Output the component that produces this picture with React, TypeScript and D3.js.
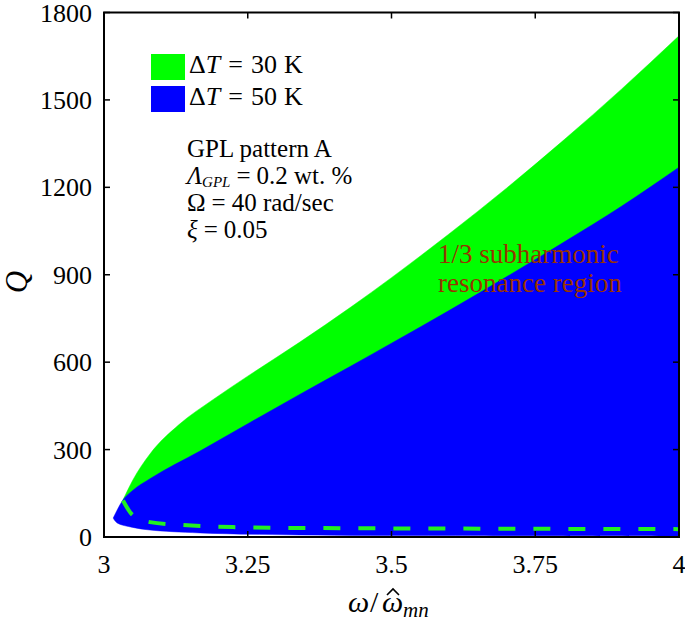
import * as d3 from "d3";

const W = 685;
const H = 623;

// ω / ω̂mn vs Q boundaries
const greenTopW = [3.033, 3.05, 3.08, 3.13, 3.19, 3.25, 3.34, 3.43, 3.5, 3.6, 3.7, 3.8, 3.9, 4.0];
const greenTopQ = [127, 195, 285, 385, 472, 552, 668, 790, 890, 1040, 1197, 1363, 1537, 1720];

const greenLowW = [3.033, 3.05, 3.08, 3.137, 3.224, 3.341, 3.6, 4.0];
const greenLowQ = [125, 75, 51, 41, 34, 31, 29, 27];

const blueTopW = [3.016, 3.033, 3.05, 3.08, 3.167, 3.254, 3.341, 3.428, 3.5, 3.6, 3.7, 3.8, 3.9, 4.0];
const blueTopQ = [65, 127, 160, 200, 295, 393, 490, 585, 665, 777, 893, 1012, 1135, 1269];

const blueLowW = [3.016, 3.023, 3.05, 3.08, 3.167, 3.341, 3.6, 4.0];
const blueLowQ = [65, 48, 33, 24, 14, 7, 5, 3];

const xTicks = [3, 3.25, 3.5, 3.75, 4];
const xTickLabels = ["3", "3.25", "3.5", "3.75", "4"];
const yTicks = [0, 300, 600, 900, 1200, 1500, 1800];

const legendLabels = ["30", "50"];
const legendColors = ["#00ff00", "#0000ff"];

const left = 104;
const right = 679;
const top = 12.5;
const bottom = 537;

const serif = '"Liberation Serif", "Times New Roman", Times, "DejaVu Serif", serif';

export default function App() {
  const x = d3.scaleLinear().domain([3, 4]).range([left, right]);
  const y = d3.scaleLinear().domain([0, 1800]).range([bottom, top]);

  const lineM = d3
    .line<[number, number]>()
    .x((d) => x(d[0]))
    .y((d) => y(d[1]))
    .curve(d3.curveMonotoneX);
  const lineC = d3
    .line<[number, number]>()
    .x((d) => x(d[0]))
    .y((d) => y(d[1]))
    .curve(d3.curveCatmullRom.alpha(0.5));

  const zip = (ws: number[], qs: number[]) =>
    ws.map((w, i) => [w, qs[i]] as [number, number]);

  const region = (tw: number[], tq: number[], lw: number[], lq: number[]) => {
    const up = lineM(zip(tw, tq)) ?? "";
    const low = lineC(zip(lw, lq).reverse()) ?? "";
    return up + low.replace(/^M/, "L") + "Z";
  };

  const greenPath = region(greenTopW, greenTopQ, greenLowW, greenLowQ);
  const bluePath = region(blueTopW, blueTopQ, blueLowW, blueLowQ);
  const dashPath = lineM(zip(greenLowW, greenLowQ)) ?? "";

  const tl = 6;

  return (
    <svg
      width={W}
      height={H}
      style={{ position: "absolute", left: 0, top: 0, background: "#fff", fontFamily: serif }}
    >
      <defs>
        <clipPath id="plotClip">
          <rect x={left} y={top} width={right - left} height={bottom - top} />
        </clipPath>
      </defs>

      <g clipPath="url(#plotClip)">
        <path d={greenPath} fill="#00ff00" stroke="#00ff00" strokeWidth={0.5} />
        <path d={bluePath} fill="#0000ff" stroke="#0000ff" strokeWidth={0.5} />
        <path
          d={dashPath}
          fill="none"
          stroke="#22f022"
          strokeWidth={4}
          strokeDasharray="17 18"
        />
      </g>

      {/* frame */}
      <rect
        x={left}
        y={top}
        width={right - left}
        height={bottom - top}
        fill="none"
        stroke="#000"
        strokeWidth={2}
      />

      {/* x ticks */}
      {xTicks.map((t, i) => (
        <g key={`xt-${i}`}>
          <line x1={x(t)} x2={x(t)} y1={bottom} y2={bottom - tl} stroke="#000" strokeWidth={1.5} />
          <line x1={x(t)} x2={x(t)} y1={top} y2={top + tl} stroke="#000" strokeWidth={1.5} />
          <text x={x(t)} y={573} textAnchor="middle" fontSize={26} fill="#000">
            {xTickLabels[i]}
          </text>
        </g>
      ))}

      {/* y ticks */}
      {yTicks.map((t, i) => (
        <g key={`yt-${i}`}>
          <line x1={left} x2={left + tl} y1={y(t)} y2={y(t)} stroke="#000" strokeWidth={1.5} />
          <line x1={right} x2={right - tl} y1={y(t)} y2={y(t)} stroke="#000" strokeWidth={1.5} />
          <text x={92} y={y(t) + 9} textAnchor="end" fontSize={26} fill="#000">
            {t}
          </text>
        </g>
      ))}

      {/* x axis label: ω / ω̂_mn */}
      <g fill="#000">
        <text x={348} y={612} fontSize={30} fontStyle="italic">ω</text>
        <text x={370} y={612} fontSize={30}>/</text>
        <text x={382} y={612} fontSize={30} fontStyle="italic">ω</text>
        <text x={403} y={617} fontSize={21} fontStyle="italic">mn</text>
        <path d="M387,595 L393,589 L399,595" fill="none" stroke="#000" strokeWidth={1.6} />
      </g>
      <text
        transform="translate(27,282) rotate(-90)"
        textAnchor="middle"
        fontSize={31}
        fontStyle="italic"
        fill="#000"
      >
        Q
      </text>

      {/* legend */}
      {legendLabels.map((lab, i) => (
        <g key={`lg-${i}`}>
          <rect x={151} y={54 + i * 32} width={34} height={26} fill={legendColors[i]} />
          <text x={189} y={73 + i * 32} fontSize={26} fill="#000">
            <tspan>Δ</tspan>
            <tspan fontStyle="italic">T</tspan>
            <tspan dx={8}>=</tspan>
            <tspan dx={8}>{lab}</tspan>
            <tspan dx={7}>K</tspan>
          </text>
        </g>
      ))}

      {/* parameters */}
      <g fontSize={25} fill="#000">
        <text x={187} y={157}>GPL pattern A</text>
        <text x={187} y={184}>
          <tspan fontStyle="italic">Λ</tspan>
          <tspan fontStyle="italic" fontSize={15} dy={3}>GPL</tspan>
          <tspan dy={-3} dx={6}>=</tspan>
          <tspan dx={6}>0.2 wt. %</tspan>
        </text>
        <text x={187} y={211}>
          <tspan>Ω</tspan>
          <tspan dx={6}>=</tspan>
          <tspan dx={6}>40 rad/sec</tspan>
        </text>
        <text x={187} y={238}>
          <tspan fontStyle="italic">ξ</tspan>
          <tspan dx={6}>=</tspan>
          <tspan dx={6}>0.05</tspan>
        </text>
      </g>

      <g fontSize={27} fill="#993300">
        <text x={438} y={263}>1/3 subharmonic</text>
        <text x={438} y={292}>resonance region</text>
      </g>
    </svg>
  );
}
